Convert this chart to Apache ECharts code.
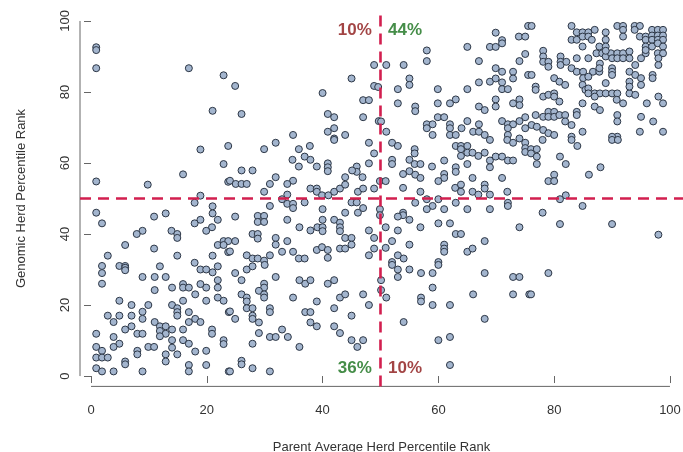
<!DOCTYPE html>
<html>
<head>
<meta charset="utf-8">
<script src="https://cdn.jsdelivr.net/npm/echarts@6/dist/echarts.min.js"></script>
<style>
html, body { margin: 0; padding: 0; background: #ffffff; }
#chart { width: 683px; height: 452px; }
</style>
</head>
<body>
<div id="chart"></div>
<script>
// Animals split by the 50th-percentile cut on both ranks: [parent average rank, genomic rank]
const upperLeft = [
  [0.9,92.6],[0.9,91.8],[0.9,86.7],[16.9,86.7],[22.9,84.7],[21,74.7],
  [24.9,81.7],[40,79.7],[45,83.8],[48.9,87.6],[48.9,81.7],[47,77.7],[48,77.7],[26,73.8],[40.9,73.8],
  [42,72.9],[47,72.9],[40.9,68.8],[42,69.8],[34.9,67.9],[43.9,67.9],[42,66.9],[49.7,71.8],[49.6,81.4],
  [0.9,54.8],[9.8,53.9],[15.9,56.8],[18.9,63.8],[23.7,64.8],[22.9,59.7],[23.7,54.7],[18.9,50.8],
  [31.9,65.7],[37.8,64.8],[42,66.5],[48,65.7],[29.9,63.9],[35.9,63.9],[36.9,61.8],[37.9,60.9],[34.8,60.9],
  [35.9,59],[39,59],[40.9,59.9],[40.9,58.8],[40.9,57.7],[48.9,62.7],[48,59.9],[45.9,59],[45.9,57.5],
  [45.1,57.9],[46.9,56],[43.9,56],[26,57.9],[27.9,57.9],[24,55],[25,54.1],[26,54.1],[26.9,54.1],[31.9,56],
  [34.9,55],[33.9,54.1],[30.9,54.1],[29.9,51.9],[37.9,52.8],[39,52.8],[39,51.9],[39.9,50.9],[41,50.9],
  [42,51.9],[33.9,51.1],[43,52.8],[43.9,53.9],[46.1,51.9],[47,52.8],[48.9,52.8],[49.9,54.9]
];

const upperRight = [
  [75.5,98.6],[69.9,96.7],[71,94.6],[71,93.7],[73.9,95.6],[75,95.6],[65,92.7],[68.9,92.7],[69.9,92.7],
  [58,91.7],[58,88.7],[75,90.7],[74,88.7],[67,88.7],[51,87.6],[54,87.6],[69.9,86.7],[72.9,85.7],[71,85.7],
  [75.5,84.8],[55,83.8],[55,82],[68.9,82.9],[69.9,83.8],[72.9,83.8],[67,82.7],[71,82.7],[53,80.8],
  [59.9,80.8],[65,80.8],[71,80.8],[72,80.8],[74,77.9],[74,76.3],[72.9,76.8],[69.9,77.9],[69.9,75.9],
  [67,75.9],[68,74.9],[63,77.9],[62,76.8],[59.9,76.8],[53,76.8],[56,75.9],[56,74.6],[75,72.9],[59.9,72.9],
  [61,72.9],[65,71.8],[58,70.9],[59,70.9],[58,69.8],[62,70.9],[62,69.8],[67,70.9],[71,71.8],[72,70.9],
  [72.9,70.9],[74,71.8],[75,69.8],[64,69.8],[66,68.8],[67,68.8],[68,67.9],[59,67.9],[62,67.9],[63,67.9],
  [72,69.8],[72,67.9],[51,68.8],[50.1,71.7],[74,66.9],
  [76.1,98.6],[83,98.6],[83.9,96.8],[84.9,96.8],[85.9,96.8],[87,97.5],[83,94.7],[83.9,94.7],[84.9,95.6],
  [85.9,95.6],[84.9,92.8],[86.5,94.7],[88.9,96.8],[88.9,94.7],[90.9,98.6],[91.9,98.6],[91.9,97.5],
  [93.9,98.6],[94.8,98.6],[93.9,97.5],[91.9,95.6],[94.8,95.6],[95.8,95.6],[96.9,97.5],[97.9,97.5],
  [98.8,97.5],[96.9,95.9],[97.9,95.9],[98.8,95.9],[95.8,94.7],[96.9,94.7],[97.9,94.7],[98.8,94.7],
  [95.8,92.8],[96.9,92.8],[97.9,93.7],[98.8,92.8],[95.8,90.9],[95.8,91.8],[97.9,90.9],[98.8,90.9],
  [87.8,92.8],[88.9,92.8],[87.3,90.9],[88.3,90.9],[88.9,90],[89.8,90.9],[90.9,90.9],[91.9,90.9],[93,91.4],
  [90,89.5],[90.9,89.5],[91.9,89.5],[93,89.5],[88.9,91.6],[78.1,91.6],[78.1,90],[78.1,88.5],[79,88.5],
  [79,87.1],[81.1,90],[81.1,88.5],[81.1,87.6],[82.1,88.5],[83.9,89.5],[85.9,89.5],[87.9,88],[86.7,85.7],
  [87.8,85.7],[87.8,86.7],[90,86.7],[90,85.7],[90,84.8],[83,86.7],[83.9,85.7],[85,85.7],[85,83.9],
  [85.9,84.3],[94,87.6],[95,89.5],[93,85.7],[93,82.9],[94,84.8],[95,83.9],[95,82],[97,84.8],[97,83.9],
  [98,87.6],[98,89.5],[76.1,84.8],[80,83.9],[80.9,82.9],[81.9,82],[76.8,81.5],[76.8,80.6],[84.9,82],
  [85.4,80.6],[85.9,81],[85.9,79.6],[87,79.6],[87.9,79.6],[88.9,79.6],[90,79.6],[90.9,79.6],[93,79.6],
  [94,79.2],[87,78.7],[88.9,82.5],[93,81.5],[96,76.8],[98.8,76.8],[98,78.7],[78.1,78.7],[79,79.2],
  [80,79.6],[80,78.7],[80.9,77.3],[90.8,77.8],[91.9,76.8],[76.8,73.5],[78.1,73],[79,74.4],[79,73],
  [80,74.4],[80,73],[80.9,73.5],[81.9,73.5],[81.9,71.7],[83,70.7],[83.9,74.4],[83.9,73.5],[84.9,76.8],
  [87,75.9],[87.9,74.9],[90.9,73.5],[90.9,71.7],[95,73],[97.1,71.7],[76.1,70.7],[77,70.2],[78.1,69.3],
  [79,68.4],[80,67.9],[83,67.4],[84.9,68.8],[90.9,67.4],[90,67.4],[94.8,68.8],[98.8,68.8],
  [52,65.7],[53,64.8],[63,64.8],[63.9,64.8],[65,64.8],[63.9,63.9],[63.9,62],[65,62.9],[65.9,62.9],
  [66.9,62],[68,62.9],[68.9,66.5],[71.9,66.5],[72.9,65.7],[75,65.7],[75,64.2],[75,63.1],[55.9,63.9],
  [55.9,62.7],[52,60.9],[52,59.7],[55,60.9],[55.9,59.7],[56.9,59.7],[61,60.7],[58.9,59],[63,58.8],
  [63,57.5],[65,59.7],[68.9,60.7],[68.9,58.8],[69.9,61.8],[71,61.8],[72,60.7],[72.9,60.7],[53.9,56.9],
  [55,57.7],[56,56.7],[56.9,55.8],[61,56.9],[61,55.8],[60,54.9],[50.9,54.9],[65.9,55.8],[71,55.8],
  [62.9,53],[63.9,53.9],[63.9,51.9],[68,53.9],[68,52.8],[65.9,51.9],[66.9,51.1],[68.9,51.1],[71.9,51.9],
  [53.9,53],[56.9,51.9],
  [78,66.5],[83,66.5],[84,64.8],[90,66.5],[91,66.5],[76,63.9],[77,63.9],[76,62.7],[77,61.8],[77,59.7],
  [81,61.8],[82,59.7],[80,56.7],[79,54.9],[80,54.9],[86,56.7],[88,58.8],[82,50.9]
];

const lowerLeft = [
  [0.9,46],[1.9,43],[17.9,48.8],[21,47.8],[21,45.8],[21.9,44],[18.9,44],[17.9,43],[12.9,45.8],[10.9,44.9],
  [20.9,41.9],[19.9,40.9],[13.9,40.9],[14.9,40],[14.9,38.9],[8.9,40.9],[7.9,40],[5.9,36.9],[10.9,35.9],
  [14.9,33.9],[2.9,33.9],[21.9,36.9],[22.9,38],[23.7,38],[22.9,36.9],[21,33.9],[23.7,34.9],[1.9,31],
  [4.9,31],[5.9,31],[17.9,31.9],
  [33,49.8],[33.9,48.5],[34.9,48.5],[34.9,47.3],[36.9,48.9],[30.9,47.9],[45,48.9],[45.9,48.9],[46.1,46],
  [47,47.3],[43.9,46],[24.9,44.9],[28.8,45.1],[29.9,45.1],[28.8,43.4],[29.9,43.4],[33.9,44],[40,47],[40,44],
  [39.1,41.9],[40,41.9],[40,40.8],[37.9,41],[36,41.9],[42,44],[43,43.2],[43,41.9],[43,40.8],[27.9,40],
  [28.8,40],[28.8,38.7],[31.9,38.9],[33.9,38],[48,41],[43.9,38.9],[45,38.9],[45,37],[48.9,38.9],[48.9,35.9],
  [24.9,38],[24,35.1],[26.9,34],[27.9,33.1],[28.8,33.1],[29.9,32.5],[30.9,34],[31.9,37],[33,35],[34.9,35],
  [35.9,33.1],[36.9,33.1],[39,35.5],[39.9,36.3],[40.9,35.5],[40.9,33.3],[43,35.9],[43.9,35.9],[48,34],
  [1.9,29],[1.9,26],[5.9,30.5],[5.9,29.8],[11.9,30.9],[8.9,27.9],[11,27.9],[12.9,27.9],[11,24.2],[14,24.9],
  [15.9,25.9],[15.9,24.9],[16.9,24.9],[18.9,30],[19.9,30],[21,29.2],[21.9,27],[21.9,24.9],[19.9,24.9],
  [18.9,25.9],[18,23],[21.9,22.1],[22.9,21.2],[19.9,21.2],[21.9,30.9],[23.8,18],[4.9,21.2],[7,20],[9.9,20],
  [2.9,17],[4.9,17],[7,17],[8.9,18.1],[8.9,16.1],[14,20],[14.9,19.1],[14.9,18],[14.9,17],[16.9,18],
  [15.9,21.2],[18,16.1],[18.9,15.2],[16.9,15.2],[3.9,15.2],[5.9,13.1],[7,14],[11,15.2],[11.9,14],[12.9,14],
  [11.9,12.7],[12.9,11.9],[14,13.1],[11.9,11.2],[8,11.9],[8.9,11.9],[15.9,13.1],[0.9,11.9],[3.9,11],
  [20.9,13.1],[20.9,11.9],[14,10.1],[14,8],[15.9,10.1],[16.9,9.1],[18,6.9],[19.9,7.1],[22.9,10.1],[22.9,9],
  [4.9,9.1],[3.9,8.2],[9.9,8.2],[10.9,8.2],[8,7.1],[8,6.1],[0.9,8.2],[1.9,7.1],[0.9,5.2],[1.9,5.2],
  [2.9,5.2],[12.9,6.1],[12.9,4.1],[14.9,6.1],[5.9,4.1],[5.9,3.3],[0.9,2.2],[1.9,1.3],[3.9,1.3],[8.9,1.3],
  [16.9,3.1],[16.9,1.3],[19.9,3.1],[23.8,1.3],
  [24.9,29],[26.9,30],[27.9,30.9],[30,31.3],[26,27],[31.9,27.9],[36,27],[37,26],[37.9,27],[40.9,26],[42,27],
  [29.9,26],[29.9,24.9],[29,24],[29.9,23],[29.9,22.1],[26,23],[26.9,22.1],[26.9,21],[26.9,19.1],[27.9,19.1],
  [34.9,22.1],[39,21],[43,22.1],[43.9,23],[47,23],[48,20],[42,19.1],[30.9,19.1],[30.9,18],[24,18.2],
  [24.9,16.1],[27.9,17],[27.9,16.1],[29,15.1],[37,18],[37.9,18],[45,17],[37.9,15.1],[39,14],[42,14],
  [33,13.1],[29,12.1],[30.9,11],[31.9,11],[34,11],[43,12.1],[27.9,9.1],[36,8.2],[45,10.1],[46,8.2],
  [47,10.1],[26,4.3],[26,3.3],[24,1.3],[27.9,2.2],[30.9,1.3]
];

const lowerRight = [
  [58,49.8],[60,49.8],[56,48.8],[59,47.9],[58,47],[61,47],[63,48.8],[65,47],[68.9,47],[72,48.8],[72,47.9],
  [49.9,47],[49.9,45.3],[53.9,46],[53.9,45.3],[53,44.9],[55,44],[50.9,41.9],[53,41],[56.9,41.9],[60,43],
  [62,43],[74,41.9],[63,40],[63.9,40],[52,38],[55,37],[68,38],[61,37],[61,35.9],[61,35],[65,35],[65.9,35.9],
  [50.9,36.1],[53,34],[54,33.1],[52,32.1],[60,32.1],
  [81,49.8],[84.9,47.9],[78,46],[81,42.8],[90,42.8],[98,39.8],
  [52,31.3],[53,30],[53,27.9],[55,30],[57,29],[59,29],[60,31.3],[68,29],[72.9,27.9],[74,27.9],[50.1,27],
  [50.1,24.2],[51,22.1],[59,24.9],[57,22.1],[57,21],[59,20],[62,20],[66,23],[72.9,23],[75.7,23],[68,16.1],
  [54,15.2],[60,10.1],[62,11],[62,3.1],
  [79,29],[76,23]
];

// Axis ticks and the 50th-percentile split
const tickValues = [0, 20, 40, 60, 80, 100];
const cutoff = 50;

// Share of animals in each quadrant
const shareLabels = [
  { text: '10%', x: 48.5, y: 97.5, side: 'left',  tone: 'red' },
  { text: '44%', x: 51.3, y: 97.5, side: 'right', tone: 'green' },
  { text: '36%', x: 48.5, y: 2.3,  side: 'left',  tone: 'green' },
  { text: '10%', x: 51.3, y: 2.3,  side: 'right', tone: 'red' }
];

// Plot region extents (data units)
const X_MIN = -1.9, X_MAX = 102.25;
const Y_MIN = -2.92, Y_MAX = 102.92;

const FONT = '"Liberation Sans", Arial, sans-serif';
const TONES = { red: '#8b1515', green: '#17701a' };
const DASH = '#d21f4f';

const allPoints = upperLeft.concat(upperRight, lowerLeft, lowerRight);

const chart = echarts.init(document.getElementById('chart'), null, { renderer: 'canvas' });

const lineSeries = (data, style, z) => ({
  type: 'line',
  data: data,
  symbol: 'none',
  clip: false,
  silent: true,
  z: z,
  lineStyle: style,
  animation: false
});

chart.setOption({
  backgroundColor: '#ffffff',
  animation: false,
  grid: {
    left: 80, right: 0, top: 10.6, bottom: 452 - 386.4,
    containLabel: false,
    outerBoundsMode: 'none'
  },
  xAxis: {
    type: 'value',
    min: X_MIN,
    max: X_MAX,
    splitLine: { show: false },
    axisLine: { show: false },
    axisTick: { show: true, length: 7, customValues: tickValues, lineStyle: { color: '#666', width: 1 } },
    axisLabel: { customValues: tickValues, color: '#333', fontSize: 13, fontFamily: FONT, margin: 18 },
    name: 'Parent Average Herd Percentile Rank',
    nameLocation: 'middle',
    nameGap: 55,
    nameTextStyle: { color: '#333', fontSize: 13, fontFamily: FONT }
  },
  yAxis: {
    type: 'value',
    min: Y_MIN,
    max: Y_MAX,
    splitLine: { show: false },
    axisLine: { show: false },
    axisTick: { show: true, length: 7, customValues: tickValues, lineStyle: { color: '#666', width: 1 } },
    axisLabel: { customValues: tickValues, color: '#333', fontSize: 13, fontFamily: FONT, rotate: 90, margin: 8 },
    name: 'Genomic Herd Percentile Rank',
    nameLocation: 'middle',
    nameGap: 52,
    nameTextStyle: { color: '#333', fontSize: 13, fontFamily: FONT }
  },
  series: [
    // axis lines running from the first to the last tick
    lineSeries([[tickValues[0], Y_MIN], [tickValues[tickValues.length - 1], Y_MIN]], { color: '#666', width: 1 }, 1),
    lineSeries([[X_MIN, tickValues[0]], [X_MIN, tickValues[tickValues.length - 1]]], { color: '#666', width: 1 }, 1),
    {
      type: 'scatter',
      data: allPoints,
      symbol: 'circle',
      symbolSize: 7,
      z: 2,
      itemStyle: { color: '#a3b5ce', borderColor: '#2c3645', borderWidth: 1, opacity: 1 },
      animation: false
    },
    // 50th-percentile reference lines
    lineSeries([[X_MIN, cutoff], [X_MAX, cutoff]], { color: DASH, width: 2.6, type: [11, 7] }, 3),
    lineSeries([[cutoff, Y_MIN], [cutoff, Y_MAX]], { color: DASH, width: 2.6, type: [11, 7] }, 3),
    {
      type: 'scatter',
      z: 4,
      symbolSize: 0,
      silent: true,
      data: shareLabels.map(d => ({
        value: [d.x, d.y],
        label: {
          show: true,
          formatter: d.text,
          position: d.side,
          distance: 0,
          color: TONES[d.tone],
          fontSize: 17,
          fontWeight: 'bold',
          fontFamily: FONT
        }
      })),
      animation: false
    }
  ]
});
</script>
</body>
</html>
